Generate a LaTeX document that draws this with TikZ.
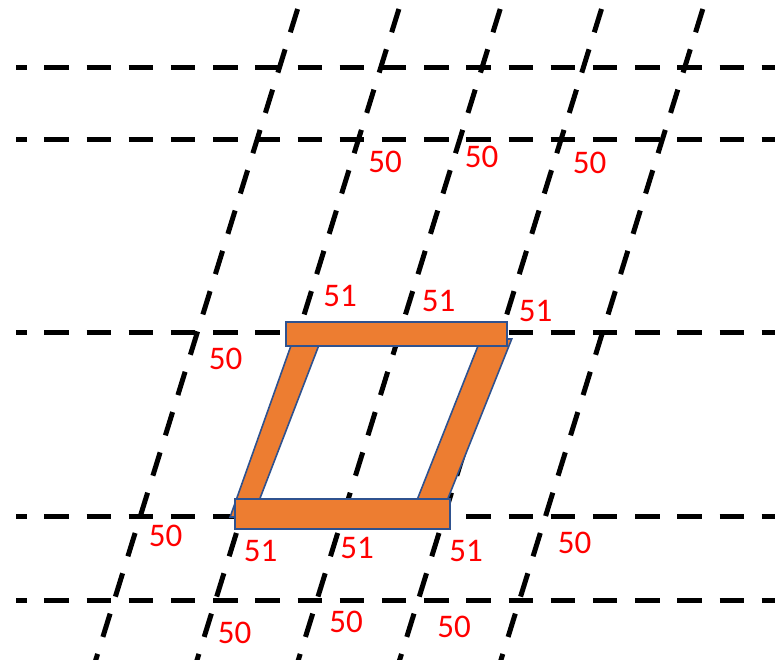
\documentclass[tikz,border=0pt]{standalone}
\usepackage{fontspec}
\setmainfont{Carlito}
\usepackage{tikz}
\definecolor{barorange}{HTML}{ED7D31}
\definecolor{barblue}{HTML}{2F528F}
\definecolor{valred}{HTML}{FF0000}

\begin{document}
\begin{tikzpicture}[x=1pt, y=-1pt, font=\fontsize{33}{33}\selectfont]
  % ------- styles -------
  \tikzstyle{gridline}=[line width=5pt, dash pattern=on 24.4pt off 17.8pt]
  \tikzstyle{bar}=[fill=barorange, draw=barblue, line width=1.6pt]
  \tikzstyle{val}=[text=valred, inner sep=0pt]

  \useasboundingbox (0,0) rectangle (775,659);
  \clip (0,0) rectangle (775,659);

  % ------- grid -------
  \foreach \gy in {67,139,332,516,600}
    \draw[gridline, dash phase=13.9pt] (16,\gy) -- (775,\gy);
  \foreach \k in {0,...,4}
    \draw[gridline] (297.6+101.3*\k,9) -- (92+101.3*\k,672);

  % ------- frame -------
  \draw[bar] (230.1,517) -- (252.8,517) -- (323.2,334) -- (295.1,334) -- cycle;
  \draw[bar] (410.3,517) -- (440.5,517) -- (511.7,339) -- (480.7,339) -- cycle;
  \draw[bar] (286,322) rectangle (507,346);
  \draw[bar] (235,499) rectangle (450,529);

  % ------- values -------
  \node[val] (t1) at (385,161.5) {50};
  \node[val] (t2) at (481.5,157) {50};
  \node[val] (t3) at (589.5,163) {50};

  \node[val] (u1) at (340,296) {51};
  \node[val] (u2) at (438.5,300.5) {51};
  \node[val] (u3) at (535.5,310.5) {51};
  \node[val] (ul) at (225.5,358.5) {50};

  \node[val] (b0) at (165.5,535.5) {50};
  \node[val] (b1) at (260.5,550.5) {51};
  \node[val] (b2) at (357,547.5) {51};
  \node[val] (b3) at (466,550.5) {51};
  \node[val] (b4) at (574.5,543) {50};

  \node[val] (l1) at (234.5,632.5) {50};
  \node[val] (l2) at (346,621.5) {50};
  \node[val] (l3) at (454,627) {50};
\end{tikzpicture}
\end{document}
